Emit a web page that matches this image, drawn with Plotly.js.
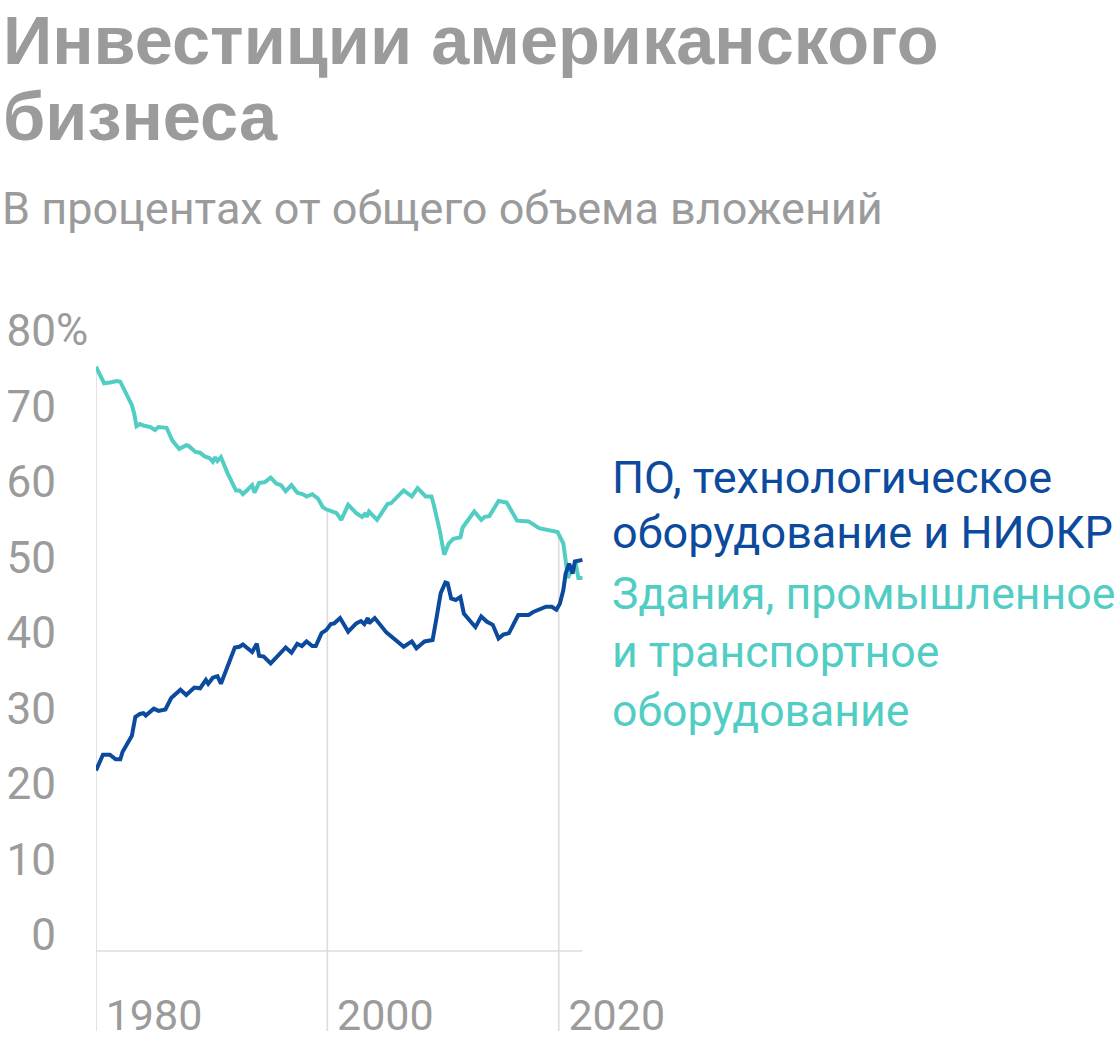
<!DOCTYPE html>
<html>
<head>
<meta charset="utf-8">
<script src="https://cdn.plot.ly/plotly-3.0.1.min.js"></script>
<style>
  html, body { margin: 0; padding: 0; background: #ffffff; }
  #chart { width: 1120px; height: 1048px; }
</style>
</head>
<body>
<div id="chart"></div>
<script>
// ---------------- DATA ----------------
const titleLines = ["Инвестиции американского", "бизнеса"];
const subtitle = "В процентах от общего объема вложений";

const blueName = "ПО, технологическое оборудование и НИОКР";
const blueLabelLines = ["ПО, технологическое", "оборудование и НИОКР"];
const tealName = "Здания, промышленное и транспортное оборудование";
const tealLabelLines = ["Здания, промышленное", "и транспортное", "оборудование"];

const blueYears = [1980.0,1980.6,1981.2,1981.7,1982.1,1982.3,1982.6,1983.1,1983.4,1983.8,1984.1,1984.3,1985.0,1985.4,1986.0,1986.5,1987.3,1987.8,1988.5,1989.0,1989.5,1989.7,1990.1,1990.5,1990.8,1991.4,1992.0,1992.4,1992.7,1993.5,1993.9,1994.1,1994.5,1995.1,1995.8,1996.4,1996.9,1997.4,1997.8,1998.2,1998.7,1999.0,1999.5,1999.9,2000.3,2000.6,2001.1,2001.8,2002.5,2002.9,2003.2,2003.5,2003.6,2004.1,2005.1,2005.9,2006.6,2007.3,2007.7,2008.4,2009.1,2009.4,2009.8,2010.2,2010.4,2010.7,2011.1,2011.5,2011.8,2012.4,2012.8,2013.3,2013.8,2014.3,2014.8,2015.2,2015.7,2016.5,2017.4,2017.8,2018.3,2018.9,2019.4,2019.8,2020.1,2020.4,2020.6,2020.9,2021.2,2021.4,2022.05];
const blueValues = [23.9,26.0,26.0,25.4,25.4,26.4,27.2,28.5,31.0,31.4,31.5,31.2,32.1,31.8,32.0,33.5,34.6,33.9,34.9,34.8,35.9,35.4,36.2,36.4,35.4,37.9,40.2,40.3,40.6,39.6,40.7,39.1,39.0,38.1,39.2,40.2,39.5,40.7,40.4,41.0,40.4,40.4,42.1,42.5,43.3,43.4,44.1,42.3,43.4,43.7,43.3,44.1,43.4,44.1,42.2,41.2,40.3,41.0,40.1,41.0,41.2,43.8,47.4,48.8,48.7,46.7,46.5,46.9,44.7,43.6,42.9,44.3,43.6,43.2,41.4,41.9,42.1,44.5,44.5,44.9,45.2,45.6,45.6,45.2,46.0,47.8,50.0,51.3,50.0,51.6,51.8];

const tealYears = [1980.0,1980.7,1981.2,1981.8,1982.1,1982.4,1982.6,1983.1,1983.3,1983.5,1983.8,1984.1,1984.7,1985.1,1985.4,1986.1,1986.6,1987.2,1987.8,1988.0,1988.6,1989.0,1989.4,1989.8,1990.1,1990.3,1990.5,1990.8,1991.4,1992.1,1992.4,1992.7,1993.1,1993.5,1993.7,1994.1,1994.6,1995.1,1995.6,1996.0,1996.4,1996.9,1997.4,1997.9,1998.2,1998.7,1999.2,1999.6,1999.9,2000.5,2000.8,2001.2,2001.8,2002.5,2003.0,2003.3,2003.4,2003.6,2004.3,2005.2,2005.5,2006.6,2007.3,2007.8,2008.5,2009.0,2009.2,2009.7,2010.1,2010.5,2010.9,2011.5,2011.7,2012.7,2013.3,2013.6,2014.0,2014.8,2015.5,2016.4,2017.4,2018.3,2018.9,2019.3,2019.9,2020.4,2020.6,2020.8,2021.2,2021.5,2021.7,2022.05];
const tealValues = [77.4,75.2,75.3,75.5,75.4,74.4,73.9,72.3,71.2,69.5,69.8,69.6,69.4,69.0,69.4,69.3,67.6,66.5,67.0,66.9,66.1,66.0,65.5,65.3,64.8,65.4,64.9,65.4,63.2,61.0,61.0,60.5,61.1,61.7,60.7,62.0,62.1,62.7,61.9,61.7,60.9,61.7,60.7,60.5,60.2,60.5,59.9,58.8,58.5,58.2,58.0,57.1,59.1,58.0,57.5,58.0,57.5,58.2,57.1,59.2,59.3,61.0,60.2,61.3,60.2,60.2,59.1,55.8,52.5,54.0,54.6,54.8,56.1,58.2,57.1,57.5,57.6,59.6,59.4,57.0,56.9,56.0,55.8,55.6,55.5,54.0,51.3,49.4,50.9,51.1,49.4,49.4];

const xTickVals = [1980, 2000, 2020];
const xTickText = ["1980", "2000", "2020"];
const yTickVals = [0, 10, 20, 30, 40, 50, 60, 70, 80];
const yTickText = ["0", "10", "20", "30", "40", "50", "60", "70", "80"];
const ySuffix = "%";

// ---------------- STYLE ----------------
const BLUE = "#0b4a9c";
const TEAL = "#52cdc4";
const GRAY = "#9b9b9b";
const GRID = "#dcdcdc";
const FONT = "Roboto, 'Open Sans', sans-serif";
const TITLE_FONT = "'Liberation Sans', Arial, sans-serif";

const W = 1120, H = 1048;
const M = { l: 96, r: 537, t: 347, b: 97 };
const PW = W - M.l - M.r, PH = H - M.t - M.b;
const px2x = p => (p - M.l) / PW;      // pixel x -> paper x
const px2y = p => (H - M.b - p) / PH;  // pixel y -> paper y

function interp(xs, ys, x) {
  for (let i = 0; i < xs.length - 1; i++) {
    if (x >= xs[i] && x <= xs[i + 1]) {
      const t = (x - xs[i]) / (xs[i + 1] - xs[i]);
      return ys[i] + t * (ys[i + 1] - ys[i]);
    }
  }
  return ys[ys.length - 1];
}

const traces = [
  { x: tealYears, y: tealValues, name: tealName, type: "scatter", mode: "lines",
    line: { color: TEAL, width: 4 }, hoverinfo: "skip" },
  { x: blueYears, y: blueValues, name: blueName, type: "scatter", mode: "lines",
    line: { color: BLUE, width: 4 }, hoverinfo: "skip" }
];

const lastYear = Math.max(blueYears[blueYears.length - 1], tealYears[tealYears.length - 1]);
const shapes = [
  { type: "line", xref: "x", yref: "paper", x0: blueYears[0], x1: lastYear, y0: 0, y1: 0,
    line: { color: GRID, width: 1.6 }, layer: "below" }
];
xTickVals.forEach(v => {
  const top = Math.max(interp(tealYears, tealValues, v), interp(blueYears, blueValues, v));
  shapes.push({ type: "line", xref: "x", yref: "y", x0: v, x1: v, y0: 0, y1: top,
    line: { color: GRID, width: 1.6 }, layer: "below" });
  shapes.push({ type: "line", xref: "x", yref: "paper", x0: v, x1: v, y0: px2y(1031), y1: 0,
    line: { color: GRID, width: 1.6 }, layer: "below" });
});

const annotations = [];
function addText(text, pxX, pxYc, size, color, family, bold) {
  annotations.push({
    text: bold ? "<b>" + text + "</b>" : text,
    xref: "paper", yref: "paper", x: px2x(pxX), y: px2y(pxYc),
    xanchor: "left", yanchor: "middle", showarrow: false, align: "left",
    borderpad: 0, borderwidth: 0,
    font: { family: family, size: size, color: color }
  });
}
addText(titleLines[0], 3, 40, 68.5, GRAY, TITLE_FONT, true);
addText(titleLines[1], 3, 116, 68.5, GRAY, TITLE_FONT, true);
addText(subtitle, 2, 208, 45, GRAY, FONT, false);
addText(ySuffix, 56, 330, 44, GRAY, FONT, false);
blueLabelLines.forEach((t, i) => addText(t, 612, [477, 532][i], 45, BLUE, FONT, false));
tealLabelLines.forEach((t, i) => addText(t, 612, [594, 652, 711][i], 44.6, TEAL, FONT, false));

const layout = {
  width: W, height: H,
  margin: M,
  paper_bgcolor: "#ffffff", plot_bgcolor: "#ffffff",
  showlegend: false,
  xaxis: {
    range: [1980, 2022.1], showgrid: false, zeroline: false, showline: false,
    tickvals: xTickVals, ticktext: xTickText, ticks: "",
    tickfont: { family: FONT, size: 43, color: GRAY },
    ticklabelshift: 58, ticklabelstandoff: 35, fixedrange: true
  },
  yaxis: {
    range: [0, 80], showgrid: false, zeroline: false, showline: false,
    tickvals: yTickVals, ticktext: yTickText, ticks: "",
    tickfont: { family: FONT, size: 44, color: GRAY },
    ticklabelshift: -16, ticklabelstandoff: 39, fixedrange: true
  },
  shapes: shapes,
  annotations: annotations
};

Plotly.newPlot("chart", traces, layout, { displayModeBar: false, staticPlot: true });
</script>
</body>
</html>
